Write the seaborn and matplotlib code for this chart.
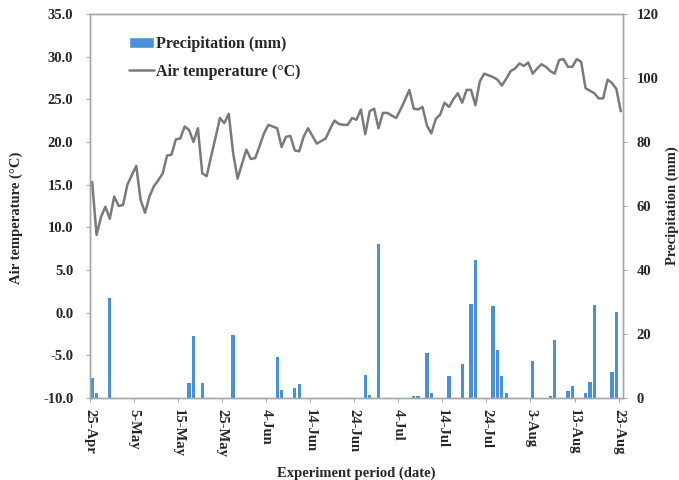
import numpy as np
import pandas as pd
import matplotlib
matplotlib.use('Agg')
import matplotlib.pyplot as plt
import seaborn as sns
from matplotlib.patches import Patch
from matplotlib.lines import Line2D

# daily air temperature (°C), 25-Apr .. 23-Aug
air_temp = [15.3, 9.1, 11.2, 12.4, 11.0, 13.6, 12.5, 12.6, 15.0, 16.1,
            17.2, 13.2, 11.7, 13.6, 14.8, 15.5, 16.3, 18.4, 18.5, 20.3,
            20.4, 21.8, 21.4, 20.0, 21.6, 16.3, 16.0, 18.3, 20.5, 22.8,
            22.2, 23.3, 18.7, 15.7, 17.4, 19.1, 18.0, 18.1, 19.5, 21.0,
            22.0, 21.8, 21.6, 19.4, 20.6, 20.7, 19.0, 18.9, 20.6, 21.6,
            20.7, 19.8, 20.1, 20.4, 21.5, 22.5, 22.1, 22.0, 22.0, 22.8,
            22.6, 23.8, 20.9, 23.6, 23.9, 21.6, 23.4, 23.4, 23.1, 22.8,
            23.8, 24.9, 26.1, 23.9, 23.8, 24.1, 21.9, 21.0, 22.7, 23.2,
            24.6, 24.1, 25.0, 25.7, 24.6, 26.1, 26.1, 24.3, 27.1, 28.0,
            27.8, 27.6, 27.3, 26.6, 27.4, 28.3, 28.6, 29.2, 28.9, 29.3,
            28.0, 28.6, 29.1, 28.8, 28.3, 28.0, 29.6, 29.7, 28.8, 28.8,
            29.7, 29.4, 26.3, 26.0, 25.7, 25.1, 25.1, 27.3, 26.9, 26.2,
            23.6]

# rainy days (days after 25-Apr) and precipitation (mm)
rain_day = [0, 1, 4, 22, 23, 25, 32, 42, 43, 46, 47, 62, 63, 65, 73, 74, 76, 77,
            81, 84, 86, 87, 91, 92, 93, 94, 100, 104, 105, 108, 109, 112, 113,
            114, 118, 119]
rain_mm = [6.2, 1.5, 31.3, 4.7, 19.2, 4.7, 19.8, 12.7, 2.6, 3.1, 4.3, 7.3, 1.0, 48.2,
           0.5, 0.5, 14.0, 1.6, 6.8, 10.7, 29.2, 43.2, 28.6, 15.1, 6.8, 1.6, 11.6,
           0.5, 18.2, 2.1, 3.6, 1.6, 5.0, 29.0, 8.0, 26.8]

tick_labels = ['25-Apr', '5-May', '15-May', '25-May', '4-Jun', '14-Jun', '24-Jun',
               '4-Jul', '14-Jul', '24-Jul', '3-Aug', '13-Aug', '23-Aug']

bar_color = '#4A90D9'
line_color = '#7A7A7A'
axis_gray = '#A6A6A6'

sns.set_style('white')
plt.rcParams['font.family'] = ['Liberation Serif', 'DejaVu Serif']
plt.rcParams['font.weight'] = 'bold'
plt.rcParams['font.size'] = 10.5

fig, ax = plt.subplots(figsize=(6.79, 4.8), dpi=100)
plt.subplots_adjust(left=0.1325, right=0.9175, top=0.971, bottom=0.171)
ax2 = ax.twinx()

temp_df = pd.DataFrame({'day': np.arange(len(air_temp)) + 0.5, 'temp': air_temp})
rain_df = pd.DataFrame({'day': np.array(rain_day) + 0.5, 'mm': rain_mm})

sns.barplot(data=rain_df, x='day', y='mm', native_scale=True, width=0.75,
            color=bar_color, saturation=1, errorbar=None, linewidth=0, ax=ax2)
sns.lineplot(data=temp_df, x='day', y='temp', color=line_color, linewidth=1.8, ax=ax)

# line on top of the bars
ax.set_zorder(ax2.get_zorder() + 1)
ax.patch.set_visible(False)

ax.set_xlim(0, 121)
ax.set_ylim(-10, 35)
ax.set_yticks(np.arange(-10, 36, 5))
ax.set_yticklabels(['%.1f' % v for v in np.arange(-10, 36, 5)])
ax2.set_ylim(0, 120)
ax2.set_yticks(np.arange(0, 121, 20))
ax.set_xticks(np.arange(0, 121, 10))
ax.set_xticklabels(tick_labels, rotation=-90)

for a in [ax, ax2]:
    for s in a.spines.values():
        s.set_color(axis_gray)
        s.set_linewidth(1)

ax.tick_params(axis='y', left=True, direction='out', length=3, color=axis_gray, pad=9)
ax.tick_params(axis='x', bottom=True, direction='out', length=3, color=axis_gray, pad=5)
ax2.tick_params(axis='y', right=True, direction='out', length=3, color=axis_gray, pad=7)

ax.set_xlabel('Experiment period (date)', fontweight='bold')
ax.xaxis.set_label_coords(0.5, -0.178)
ax.set_ylabel('Air temperature (°C)', fontweight='bold')
ax.yaxis.set_label_coords(-0.126, 0.47)
ax2.set_ylabel('Precipitation (mm)', fontweight='bold', rotation=90)
ax2.yaxis.set_label_coords(1.079, 0.5)

handles = [Patch(facecolor=bar_color), Line2D([0], [0], color=line_color, lw=1.8)]
ax.legend(handles, ['Precipitation (mm)', 'Air temperature (°C)'], loc='upper left',
          bbox_to_anchor=(0.058, 0.962), frameon=False, borderpad=0, handlelength=1.6,
          handletextpad=0.1, labelspacing=0.7, prop={'weight': 'bold', 'size': 11.5})

plt.savefig('out.png', dpi=100)
plt.close()
